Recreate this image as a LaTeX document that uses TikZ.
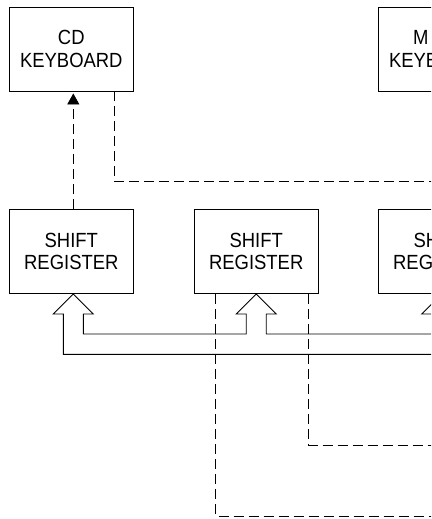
\documentclass[tikz,border=0pt]{standalone}
\usepackage{fontspec}
\setmainfont{Liberation Sans}[FakeStretch=0.9]
\usetikzlibrary{arrows.meta,calc}

\begin{document}
\begin{tikzpicture}[
  x=1pt,y=-1pt,
  >={Triangle[length=11pt,width=12pt]},
  block/.style={rectangle,draw,line width=0.9pt,minimum width=124pt,minimum height=84pt,
    inner sep=0pt,align=center,font=\fontsize{20.5}{22.3}\selectfont},
  sig/.style={line width=0.9pt,dash pattern=on 10pt off 5pt},
  bus/.style={line width=0.9pt,line join=miter}
]
  \useasboundingbox (0,0) rectangle (431,519);
  \clip (0,0) rectangle (431,519);

  \node[block] (cdkb) at (71.3,49) {CD\\KEYBOARD};
  \node[block] (mkb) at (440.3,49) {\makebox[54.6pt][l]{M}\\KEYBOARD};
  \node[block] (sr1) at (71.3,251.5) {SHIFT\\REGISTER};
  \node[block] (sr2) at (256.2,251.5) {SHIFT\\REGISTER};
  \node[block] (sr3) at (440.3,251.5) {SHIFT\\REGISTER};

  % free ends past the right border
  \coordinate (e1) at (440,181);
  \coordinate (e2) at (440,445);
  \coordinate (e3) at (440,516);
  \coordinate (busend) at (440,354.3);

  % tips of the hollow arrows
  \coordinate (t1) at ([xshift=2pt]sr1.south);
  \coordinate (t2) at (sr2.south);
  \coordinate (t3) at ([xshift=1.5pt]sr3.south);

  \draw[sig,->,shorten >=2pt] (sr1.north -| t1) -- (cdkb.south -| t1);
  \draw[sig] ([xshift=42.7pt]cdkb.south) |- (e1);
  \draw[sig] ([xshift=52.5pt]sr2.south) |- (e2);
  \draw[sig] ([xshift=-40.5pt]sr2.south) |- (e3);

  \draw[bus] (busend) -| ($(t1)+(-10,20)$) -- ++(-10,0) -- (t1) -- ++(20,20) -- ++(-10,0)
    |- ($(t2)+(-10,40)$) -- ++(0,-20) -- ++(-10,0) -- (t2) -- ++(20,20) -- ++(-10,0)
    |- ($(t3)+(-10,40)$) -- ++(0,-20) -- ++(-10,0) -- (t3);
\end{tikzpicture}
\end{document}
